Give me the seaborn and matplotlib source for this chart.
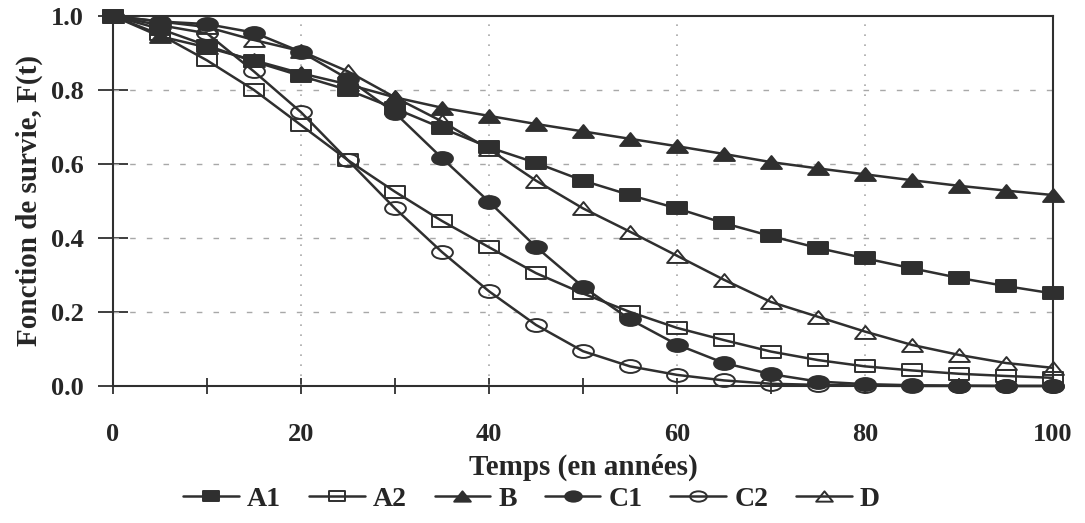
import numpy as np
import pandas as pd
import matplotlib
matplotlib.use("Agg")
import matplotlib.pyplot as plt
from matplotlib.path import Path
from matplotlib.transforms import Affine2D
import seaborn as sns

# Survival function F(t) of each group, sampled every 5 years
years = [0, 5, 10, 15, 20, 25, 30, 35, 40, 45, 50, 55, 60, 65, 70, 75, 80, 85, 90, 95, 100]
A1 = [1.0, 0.965, 0.92, 0.877, 0.838, 0.80, 0.75, 0.697, 0.645, 0.603, 0.555, 0.516, 0.48,
      0.44, 0.405, 0.373, 0.345, 0.318, 0.292, 0.27, 0.25]
A2 = [1.0, 0.95, 0.88, 0.80, 0.705, 0.61, 0.525, 0.446, 0.375, 0.305, 0.25, 0.20, 0.157,
      0.124, 0.093, 0.07, 0.053, 0.042, 0.033, 0.027, 0.022]
B = [1.0, 0.945, 0.915, 0.88, 0.845, 0.815, 0.78, 0.752, 0.73, 0.708, 0.688, 0.668, 0.648,
     0.627, 0.605, 0.588, 0.572, 0.556, 0.541, 0.528, 0.516]
C1 = [1.0, 0.985, 0.978, 0.955, 0.903, 0.83, 0.738, 0.616, 0.498, 0.376, 0.268, 0.18, 0.112,
      0.062, 0.032, 0.012, 0.005, 0.002, 0.001, 0.0, 0.0]
C2 = [1.0, 0.975, 0.953, 0.85, 0.74, 0.61, 0.48, 0.362, 0.256, 0.165, 0.094, 0.053, 0.03,
      0.015, 0.006, 0.003, 0.001, 0.0, 0.0, 0.0, 0.0]
D = [1.0, 0.985, 0.97, 0.935, 0.905, 0.85, 0.78, 0.715, 0.64, 0.555, 0.48, 0.417, 0.352,
     0.287, 0.227, 0.187, 0.147, 0.111, 0.084, 0.062, 0.049]

series_names = ["A1", "A2", "B", "C1", "C2", "D"]
series_values = [A1, A2, B, C1, C2, D]

x_ticks = [0, 20, 40, 60, 80, 100]
y_ticks = [0.0, 0.2, 0.4, 0.6, 0.8, 1.0]

df = pd.DataFrame(
    [(n, t, v) for n, vals in zip(series_names, series_values) for t, v in zip(years, vals)],
    columns=["groupe", "temps", "F"],
)

sns.set_style("white")
plt.rcParams["font.family"] = ["Liberation Serif", "DejaVu Serif"]
plt.rcParams["font.weight"] = "bold"

ink = "#2f2f2f"

# wide, flat marker shapes
h = 0.62
rect = Path([(-1, -h), (1, -h), (1, h), (-1, h), (-1, -h)],
            [Path.MOVETO, Path.LINETO, Path.LINETO, Path.LINETO, Path.CLOSEPOLY])
ellipse = Path.unit_circle().transformed(Affine2D().scale(1.0, h))
tri = Path([(-1, -h), (1, -h), (0, h), (-1, -h)],
           [Path.MOVETO, Path.LINETO, Path.LINETO, Path.CLOSEPOLY])

styles = {
    "A1": (rect, True),
    "A2": (rect, False),
    "B": (tri, True),
    "C1": (ellipse, True),
    "C2": (ellipse, False),
    "D": (tri, False),
}

fig = plt.figure(figsize=(10.85, 5.23), dpi=100)
ax = fig.add_axes([0.1041, 0.262, 0.8664, 0.7075])

for name in series_names:
    marker, filled = styles[name]
    sub = df[df["groupe"] == name]
    sns.lineplot(
        data=sub, x="temps", y="F", ax=ax, label=name,
        color=ink, linewidth=1.8,
        marker=marker, markersize=15,
        markerfacecolor=ink if filled else "none",
        markeredgecolor=ink, markeredgewidth=1.4,
        clip_on=False, zorder=3,
    )

ax.set_xlim(0, 100)
ax.set_ylim(0, 1.0)
ax.set_xticks(x_ticks)
ax.set_xticks([10, 30, 50, 70, 90], minor=True)
ax.set_yticks(y_ticks)
ax.set_xticklabels([str(t) for t in x_ticks])
ax.set_yticklabels([f"{v:.1f}" for v in y_ticks])

ax.tick_params(axis="x", which="both", direction="inout", length=12, width=1.3,
               color=ink, pad=21, labelsize=19)
ax.tick_params(axis="y", which="major", direction="inout", length=22, width=1.3,
               color=ink, pad=10, labelsize=19)
ax.tick_params(left=True, bottom=True)
ax.tick_params(axis="x", which="minor", bottom=True)

# grid: dashed horizontal, dotted vertical
for v in y_ticks[1:-1]:
    ax.axhline(v, color="#a8a8a8", lw=1.0, ls=(0, (4, 8)), zorder=1)
for t in x_ticks[1:-1]:
    ax.axvline(t, color="#a8a8a8", lw=1.2, ls=(0, (1, 5)), zorder=1)

for sp in ax.spines.values():
    sp.set_color(ink)
    sp.set_linewidth(1.5)

ax.set_xlabel("Temps (en années)", fontsize=21, fontweight="bold", labelpad=5)
ax.set_ylabel("Fonction de survie, F(t)", fontsize=21, fontweight="bold", labelpad=6)

handles, labels = ax.get_legend_handles_labels()
ax.legend_.remove()
fig.legend(handles, labels, loc="center", bbox_to_anchor=(0.49, 0.045), ncol=6,
           frameon=False, fontsize=20, markerscale=0.8, handlelength=2.0,
           handletextpad=0.3, columnspacing=1.0)

fig.savefig("out.png", dpi=100)
